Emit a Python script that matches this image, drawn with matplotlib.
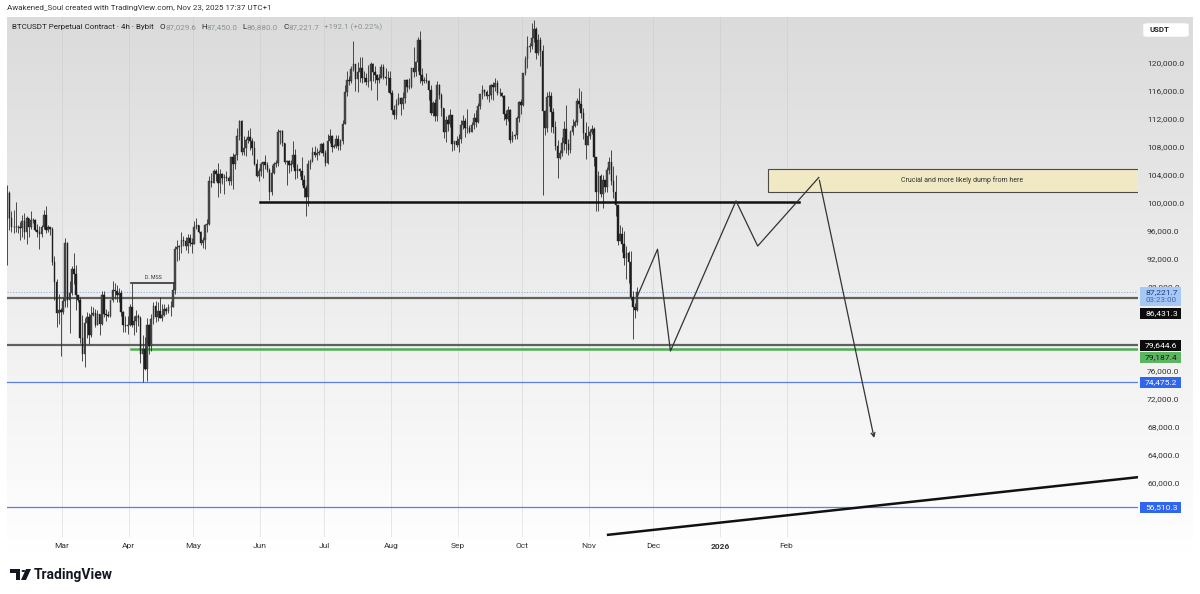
import matplotlib
matplotlib.use("Agg")
import matplotlib.pyplot as plt
import matplotlib.dates as mdates
from matplotlib.patches import Rectangle, FancyBboxPatch, Polygon, Circle
import numpy as np

# ---------------- data (daily, thousands of USDT) ----------------
close_feb = [101.4, 97.8, 96.6, 96.6, 96.5, 96.5, 96.4, 97.4, 95.8, 97.9, 96.6, 97.5, 97.6, 96.1, 95.8, 95.5, 96.6, 98.3, 96.1, 96.6, 96.3, 91.5, 88.7, 84.3, 84.7, 84.4]
high_feb = [102.5, 101.7, 98.8, 99.0, 100.1, 96.9, 97.3, 98.3, 98.5, 98.1, 97.9, 98.8, 97.9, 97.7, 97.0, 96.7, 96.9, 99.0, 99.5, 96.9, 96.6, 96.5, 92.4, 89.2, 87.0, 85.0]
low_feb = [91.2, 96.2, 95.9, 95.7, 95.9, 95.7, 94.7, 95.2, 94.8, 94.1, 95.2, 96.3, 97.1, 96.0, 95.2, 93.4, 95.1, 96.3, 95.7, 95.9, 95.4, 91.2, 86.1, 82.3, 82.7, 78.2]

close_mar = [86.0, 94.3, 86.1, 87.2, 90.6, 89.9, 86.8, 86.2, 80.7, 78.5, 82.9, 83.7, 81.1, 84.0, 84.3, 82.6, 84.1, 82.7, 86.9, 84.2, 84.0, 83.8, 86.1, 87.5, 87.4, 86.9, 87.2, 84.4, 82.6, 82.4, 82.5]
high_mar = [86.5, 95.0, 94.4, 88.9, 91.0, 92.8, 91.2, 86.9, 86.5, 84.0, 83.6, 84.4, 84.3, 85.3, 85.2, 84.9, 84.7, 84.1, 87.4, 87.4, 84.8, 84.5, 86.2, 88.8, 88.5, 88.3, 87.8, 87.5, 84.6, 83.9, 83.9]
low_mar = [84.2, 85.1, 85.2, 81.5, 86.8, 88.4, 84.7, 85.9, 80.0, 77.4, 76.6, 80.7, 79.9, 80.8, 83.9, 82.3, 82.5, 81.2, 82.5, 83.7, 83.2, 83.7, 83.7, 85.9, 86.3, 85.9, 85.8, 83.8, 81.6, 81.6, 81.3]

close_apr = [85.2, 82.5, 83.1, 83.9, 83.5, 78.4, 79.2, 76.3, 82.6, 79.6, 83.4, 85.3, 83.7, 84.5, 83.6, 84.0, 84.9, 84.5, 85.1, 85.2, 87.5, 93.4, 93.7, 93.9, 94.7, 94.6, 93.8, 95.0, 94.3, 94.2]
high_apr = [85.5, 88.5, 83.9, 84.7, 84.2, 83.8, 81.2, 80.8, 83.5, 82.7, 84.2, 85.8, 86.0, 85.8, 86.5, 85.5, 85.5, 85.1, 85.6, 86.0, 88.5, 93.8, 94.7, 94.0, 95.8, 95.3, 95.2, 95.6, 95.5, 95.0]
low_apr = [82.4, 82.3, 81.2, 81.6, 82.4, 77.2, 74.5, 76.2, 74.6, 78.4, 78.9, 82.7, 83.0, 83.1, 83.5, 83.1, 83.9, 84.1, 84.3, 83.9, 85.1, 87.0, 91.7, 91.9, 92.8, 93.9, 93.3, 92.9, 93.9, 92.9]

close_may = [96.5, 96.9, 95.9, 94.3, 94.7, 96.8, 97.0, 103.2, 102.9, 104.6, 104.1, 102.8, 104.1, 103.5, 103.7, 103.5, 103.2, 106.5, 105.6, 106.8, 109.6, 111.7, 107.3, 107.8, 109.0, 109.4, 108.9, 107.8, 105.6, 103.9, 104.6]
high_may = [97.4, 97.9, 96.9, 96.0, 95.2, 97.0, 97.7, 103.8, 104.3, 104.9, 104.9, 105.7, 104.8, 104.3, 104.1, 104.5, 103.8, 106.6, 107.1, 107.0, 110.7, 111.9, 111.8, 109.5, 109.3, 110.4, 110.7, 109.3, 108.9, 106.3, 105.0]
low_may = [94.1, 96.3, 95.7, 94.0, 93.5, 93.4, 95.8, 96.9, 102.3, 102.8, 103.1, 100.8, 101.4, 102.7, 101.3, 103.1, 102.6, 102.6, 102.0, 104.9, 106.2, 109.0, 106.8, 106.9, 106.7, 108.6, 107.5, 106.8, 105.4, 103.7, 103.2]

close_jun = [105.6, 105.8, 105.4, 104.7, 101.5, 104.3, 105.6, 105.7, 110.2, 110.3, 108.6, 105.9, 106.0, 105.4, 105.6, 106.8, 104.6, 104.9, 104.6, 103.3, 102.1, 100.9, 105.6, 106.0, 107.3, 106.9, 107.1, 107.3, 108.4, 107.1]
high_jun = [105.9, 105.9, 106.8, 105.9, 105.0, 105.4, 105.9, 106.2, 110.5, 110.4, 110.4, 108.5, 106.2, 106.1, 106.2, 108.9, 107.7, 105.6, 105.0, 106.5, 104.0, 102.5, 106.1, 106.3, 108.0, 108.2, 107.8, 107.6, 108.5, 108.7]
low_jun = [103.8, 103.6, 104.9, 104.4, 100.4, 101.1, 104.1, 105.1, 105.3, 108.4, 108.2, 105.6, 102.6, 104.3, 104.5, 105.1, 103.4, 103.6, 103.9, 102.5, 100.9, 98.2, 99.6, 104.9, 105.9, 106.5, 106.1, 106.9, 107.2, 106.7]

close_jul = [105.7, 108.8, 109.6, 108.0, 108.2, 109.2, 108.2, 108.9, 111.3, 115.9, 117.5, 117.4, 119.1, 119.8, 117.7, 118.7, 119.3, 117.9, 117.9, 117.3, 117.4, 119.9, 118.7, 118.3, 117.6, 117.9, 119.4, 118.0, 117.8, 117.8, 115.7]
high_jul = [107.5, 109.8, 110.5, 109.7, 108.4, 109.7, 109.7, 109.2, 111.9, 116.8, 118.8, 118.2, 119.5, 123.2, 119.9, 120.1, 120.8, 120.9, 118.9, 118.5, 119.7, 120.2, 120.0, 119.5, 118.4, 118.4, 119.8, 119.8, 119.3, 118.8, 118.9]
low_jul = [105.3, 105.6, 108.6, 107.3, 107.8, 107.9, 107.5, 107.5, 108.4, 111.3, 115.3, 116.9, 117.2, 118.9, 116.0, 115.8, 117.3, 117.2, 117.3, 116.9, 116.5, 116.1, 117.4, 117.2, 114.7, 117.2, 117.8, 117.7, 116.9, 115.8, 115.6]

close_aug = [113.3, 112.5, 114.2, 115.0, 114.1, 115.0, 117.5, 116.6, 116.5, 119.3, 118.7, 120.2, 123.3, 118.3, 117.4, 117.5, 117.4, 116.2, 112.9, 114.3, 112.4, 116.9, 115.4, 113.5, 110.1, 111.8, 111.3, 112.6, 108.4, 108.8, 108.3]
high_aug = [116.1, 114.0, 114.8, 115.7, 115.1, 115.8, 117.6, 117.7, 117.9, 119.3, 122.3, 120.3, 123.7, 124.5, 119.3, 118.0, 118.6, 117.6, 116.8, 114.6, 114.8, 117.4, 117.0, 115.7, 113.6, 112.4, 112.6, 113.4, 112.6, 108.9, 109.5]
low_aug = [112.7, 112.0, 112.0, 114.0, 112.6, 113.4, 114.3, 115.9, 116.3, 116.4, 118.0, 118.1, 118.9, 117.2, 116.9, 117.2, 117.2, 114.7, 112.6, 112.4, 111.7, 111.7, 114.8, 112.4, 109.3, 108.7, 110.3, 110.9, 107.4, 107.5, 108.0]

close_sep = [109.2, 111.2, 111.7, 110.7, 110.7, 110.2, 111.2, 112.1, 111.5, 113.9, 115.5, 116.1, 115.9, 115.3, 115.4, 116.8, 116.5, 117.1, 115.7, 115.7, 115.3, 112.7, 112.0, 113.3, 109.0, 109.6, 109.7, 112.1, 114.4, 114.0]
high_sep = [109.9, 111.8, 112.6, 112.2, 113.4, 111.1, 111.6, 112.9, 113.3, 114.3, 115.6, 116.8, 116.3, 116.1, 116.8, 117.0, 117.3, 117.9, 117.5, 116.4, 115.8, 115.4, 113.3, 113.9, 113.4, 110.3, 109.8, 112.4, 114.5, 114.8]
low_sep = [107.3, 108.6, 110.5, 109.4, 110.0, 110.0, 110.1, 110.6, 110.8, 111.4, 113.4, 114.8, 115.3, 114.8, 114.4, 114.8, 114.7, 116.0, 115.4, 115.3, 115.1, 111.9, 111.1, 111.7, 108.6, 108.7, 109.1, 109.2, 111.6, 112.7]

close_oct = [118.6, 120.6, 122.3, 122.4, 123.5, 124.8, 121.4, 123.3, 121.7, 113.2, 110.7, 115.2, 115.3, 113.0, 110.8, 108.2, 106.4, 107.2, 108.6, 110.6, 108.4, 107.6, 110.1, 111.0, 111.6, 114.5, 114.1, 112.9, 110.0, 108.3, 109.6]
high_oct = [118.6, 121.0, 123.9, 122.9, 125.7, 126.2, 125.1, 124.1, 123.7, 122.5, 113.3, 115.8, 116.0, 115.9, 113.6, 111.7, 109.0, 107.6, 109.4, 111.7, 114.0, 109.1, 110.4, 112.0, 111.9, 115.0, 116.4, 116.0, 113.6, 111.5, 111.0]
low_oct = [113.9, 118.3, 119.3, 121.6, 122.0, 123.0, 120.6, 121.1, 119.6, 101.2, 109.7, 110.1, 113.9, 110.2, 110.0, 107.5, 103.5, 106.3, 106.7, 107.5, 107.2, 106.9, 107.2, 109.7, 110.8, 111.2, 113.6, 112.2, 109.2, 106.3, 108.3]

close_nov = [110.1, 110.6, 106.5, 101.5, 103.9, 101.3, 103.3, 102.3, 104.7, 105.9, 103.1, 101.6, 99.7, 94.5, 95.6, 94.2, 92.2, 92.9, 91.5, 86.6, 85.1, 84.7, 87.2217]
high_nov = [110.6, 111.2, 110.8, 106.6, 104.5, 104.1, 104.0, 103.3, 105.1, 106.6, 107.5, 105.3, 104.0, 99.7, 96.8, 96.6, 96.0, 93.8, 93.1, 93.2, 87.4, 85.7, 88.0]
low_nov = [109.1, 109.9, 105.3, 98.9, 98.9, 100.9, 99.3, 101.5, 101.5, 104.2, 102.5, 100.7, 98.1, 94.0, 94.8, 93.0, 91.2, 89.2, 88.6, 86.1, 80.6, 83.5, 84.6]

first_open = 97.7
start_day = "2025-02-03"

# key levels (price labels on the right scale)
level_86 = 86431.3
level_79a = 79644.6
level_79b = 79187.4
level_74 = 74475.2
level_56 = 56510.3
last_price = 87221.7
countdown = "03:23:00"

# drawings
hline_100k = (["2025-06-01", "2026-02-07"], 100150)
green_start = "2025-04-02"
mss_line = (["2025-04-02", "2025-04-22 14:00"], 88600)
proj_dates = ["2025-11-23 12:00", "2025-12-03", "2025-12-09", "2026-01-08 12:00", "2026-01-18 14:00", "2026-02-16", "2026-03-14"]
proj_prices = [86600, 93400, 78850, 100300, 93850, 103650, 66050]
trend_dates = ["2025-11-10", "2026-07-15"]
trend_prices = [52600, 60850]
zone_start = "2026-01-23 07:00"
zone_low, zone_high = 101600, 104850
zone_text = "Crucial and more likely dump from here"

price_ticks = [60000, 64000, 68000, 72000, 76000, 88000, 92000, 96000, 100000, 104000, 108000, 112000, 116000, 120000]
month_ticks = ["2025-03-01", "2025-04-01", "2025-05-01", "2025-06-01", "2025-07-01", "2025-08-01", "2025-09-01",
               "2025-10-01", "2025-11-01", "2025-12-01", "2026-01-01", "2026-02-01"]
month_labels = ["Mar", "Apr", "May", "Jun", "Jul", "Aug", "Sep", "Oct", "Nov", "Dec", "2026", "Feb"]

# ---------------- assemble ----------------
closes = np.array(close_feb + close_mar + close_apr + close_may + close_jun + close_jul + close_aug + close_sep + close_oct + close_nov) * 1000
highs = np.array(high_feb + high_mar + high_apr + high_may + high_jun + high_jul + high_aug + high_sep + high_oct + high_nov) * 1000
lows = np.array(low_feb + low_mar + low_apr + low_may + low_jun + low_jul + low_aug + low_sep + low_oct + low_nov) * 1000
opens = np.concatenate([[first_open * 1000], closes[:-1]])
d0 = mdates.datestr2num(start_day)
xs = d0 + np.arange(len(closes)) + 0.5

def dn(s):
    return mdates.datestr2num(s)

W, H = 1200, 594
FONT = "Roboto"
plt.rcParams["font.family"] = [FONT, "DejaVu Sans"]
fig = plt.figure(figsize=(12, 5.94), dpi=100)
fig.patch.set_facecolor("white")

def fbox(x0, y0, x1, y1):
    return [x0 / W, 1 - y1 / H, (x1 - x0) / W, (y1 - y0) / H]

# gradient background panel
bg = fig.add_axes(fbox(7, 17, 1193, 555), zorder=0)
grad = np.linspace(0, 1, 256).reshape(-1, 1)
top = np.array([219, 219, 219]) / 255
bot = np.array([255, 255, 255]) / 255
img = top[None, None, :] * (1 - grad[:, :, None]) + bot[None, None, :] * grad[:, :, None]
bg.imshow(img, aspect="auto", extent=[0, 1, 0, 1])
bg.set_axis_off()

ax = fig.add_axes(fbox(7, 17, 1138, 537), zorder=2)
ax.patch.set_alpha(0)
mar1 = dn("2025-03-01")
ax.set_xlim(mar1 - 25.58, mar1 + 500.47)
ax.set_ylim(52286, 126571)
for s in ax.spines.values():
    s.set_visible(False)

# grid (vertical at month starts)
for m in month_ticks:
    ax.axvline(dn(m), color="#c4c4c4", lw=0.6, alpha=0.45, zorder=1)

# candles
up = closes >= opens
ax.vlines(xs, lows, highs, color="#2f2f2f", lw=0.6, zorder=3)
ax.bar(xs[up], (closes - opens)[up], bottom=opens[up], width=0.75, color="#4a4a4a", edgecolor="#2f2f2f", lw=0.3, zorder=4)
ax.bar(xs[~up], (closes - opens)[~up], bottom=opens[~up], width=0.75, color="#1e1e1e", edgecolor="#1e1e1e", lw=0.3, zorder=4)

# horizontal levels
ax.axhline(last_price, color="#8fb0e0", lw=0.8, ls=(0, (1, 1.5)), zorder=2)
ax.axhline(level_86, color="#606060", lw=1.6, zorder=2)
ax.axhline(level_79a, color="#606060", lw=1.6, zorder=2)
ax.plot([dn(green_start), mar1 + 600], [level_79b] * 2, color="#4caf50", lw=1.8, zorder=2)
ax.axhline(level_74, color="#5b7fe0", lw=0.9, zorder=2)
ax.axhline(level_56, color="#5b7fe0", lw=0.9, zorder=2)

# 100k line
ax.plot([dn(d) for d in hline_100k[0]], [hline_100k[1]] * 2, color="#111111", lw=1.8, zorder=5)
# D. MSS
ax.plot([dn(d) for d in mss_line[0]], [mss_line[1]] * 2, color="#333333", lw=1.2, zorder=5)
ax.text((dn(mss_line[0][0]) + dn(mss_line[0][1])) / 2, mss_line[1] + 450, "D. MSS", fontsize=3.8,
        ha="center", va="bottom", color="#333333", zorder=6)

# zone
zx0 = dn(zone_start)
ax.add_patch(Rectangle((zx0, zone_low), mar1 + 520 - zx0, zone_high - zone_low, facecolor="#f1e9c4",
                       edgecolor="#4a4a4a", lw=0.8, zorder=5))
ax.text(mar1 + 418.6, (zone_low + zone_high) / 2, zone_text, fontsize=5, ha="center", va="center",
        color="#333333", zorder=6)

# projection path
px = [dn(d) for d in proj_dates]
ax.plot(px[:-1], proj_prices[:-1], color="#333333", lw=0.9, zorder=6)
ax.annotate("", xy=(px[-1], proj_prices[-1]), xytext=(px[-2], proj_prices[-2]),
            arrowprops=dict(arrowstyle="->", color="#333333", lw=0.9, mutation_scale=7), zorder=6)

# trend line
ax.plot([dn(d) for d in trend_dates], trend_prices, color="#111111", lw=1.8, zorder=5)

# axes ticks
ax.set_xticks([dn(m) for m in month_ticks])
ax.set_xticklabels(month_labels, fontsize=6, color="#333333")
for lab in ax.get_xticklabels():
    if lab.get_text() == "2026":
        lab.set_fontweight("bold")
ax.tick_params(axis="x", length=0, pad=4)
ax.yaxis.tick_right()
ax.set_yticks(price_ticks)
ax.set_yticklabels([f"{v:,.1f}" for v in price_ticks], fontsize=6.1, color="#333333")
ax.tick_params(axis="y", length=0, pad=6.5)

# right price labels
def pylab(ycenter_px, text, fc, tc, h=11, x0=1140, x1=1181):
    fig.patches.append(Rectangle((x0 / W, 1 - (ycenter_px + h / 2) / H), (x1 - x0) / W, h / H,
                                 transform=fig.transFigure, facecolor=fc, edgecolor="none", zorder=10))
    fig.text((x0 + 5) / W, 1 - ycenter_px / H, text, fontsize=6.1, color=tc, ha="left", va="center", zorder=11)

# current price (two-line label)
fig.patches.append(Rectangle((1140 / W, 1 - 306 / H), 41 / W, 19 / H, transform=fig.transFigure,
                             facecolor="#a6c8f4", edgecolor="none", zorder=10))
fig.text(1145 / W, 1 - 292 / H, f"{last_price:,.1f}", fontsize=6.1, color="#1a3c8c", ha="left", va="center", zorder=11)
fig.text(1145 / W, 1 - 300.5 / H, countdown, fontsize=5.8, color="#3a64b8", ha="left", va="center", zorder=11)
pylab(313, f"{level_86:,.1f}", "#0c0c0c", "white")
pylab(345.5, f"{level_79a:,.1f}", "#0c0c0c", "white")
pylab(357, f"{level_79b:,.1f}", "#5cb660", "#1a1a1a")
pylab(382, f"{level_74:,.1f}", "#2f66f0", "white")
pylab(507, f"{level_56:,.1f}", "#2f66f0", "white")

# USDT box
fig.patches.append(FancyBboxPatch((1143 / W, 1 - 37 / H), 46 / W, 14 / H, boxstyle="round,pad=0,rounding_size=0.003",
                                  transform=fig.transFigure, facecolor="white", edgecolor="#e0e0e0", lw=0.5, zorder=10))
fig.text(1150 / W, 1 - 30 / H, "USDT", fontsize=5.6, color="#222222", ha="left", va="center", zorder=11, fontweight="bold")

# header texts
fig.text(7 / W, 1 - 8 / H, "Awakened_Soul created with TradingView.com, Nov 23, 2025 17:37 UTC+1",
         fontsize=5.8, color="#333333", ha="left", va="center")
t0 = fig.text(12 / W, 1 - 27 / H, "BTCUSDT Perpetual Contract · 4h · Bybit", fontsize=5.8, color="#222222",
              ha="left", va="center", zorder=12)
fig.canvas.draw()
r = fig.canvas.get_renderer()
xcur = t0.get_window_extent(r).x1 + 6
ohlc = [("O", "87,029.6"), ("H", "87,450.0"), ("L", "86,880.0"), ("C", "87,221.7"), ("", "+192.1 (+0.22%)")]
for k, v in ohlc:
    if k:
        tk = fig.text(xcur / W, 1 - 27 / H, k, fontsize=5.8, color="#222222", ha="left", va="center", zorder=12)
        xcur = tk.get_window_extent(r).x1
    tv = fig.text(xcur / W, 1 - 27 / H, v, fontsize=5.8, color="#8a968a", ha="left", va="center", zorder=12)
    xcur = tv.get_window_extent(r).x1 + 5

# TradingView logo
fig.patches.append(Polygon([(10 / W, 1 - 569 / H), (20 / W, 1 - 569 / H), (20 / W, 1 - 580 / H), (16 / W, 1 - 580 / H),
                            (16 / W, 1 - 573 / H), (10 / W, 1 - 573 / H)], closed=True, transform=fig.transFigure,
                           facecolor="#131722", edgecolor="none", zorder=12))
fig.patches.append(Circle((23.5 / W, 1 - 571 / H), 2.0 / W, transform=fig.transFigure, facecolor="#131722", zorder=12))
fig.patches.append(Polygon([(26 / W, 1 - 569 / H), (31 / W, 1 - 569 / H), (26 / W, 1 - 580 / H), (21 / W, 1 - 580 / H)],
                           closed=True, transform=fig.transFigure, facecolor="#131722", edgecolor="none", zorder=12))
fig.text(34 / W, 1 - 575 / H, "TradingView", fontsize=10, color="#131722", ha="left", va="center", fontweight="bold")

fig.savefig("out.png", dpi=100, facecolor="white")
